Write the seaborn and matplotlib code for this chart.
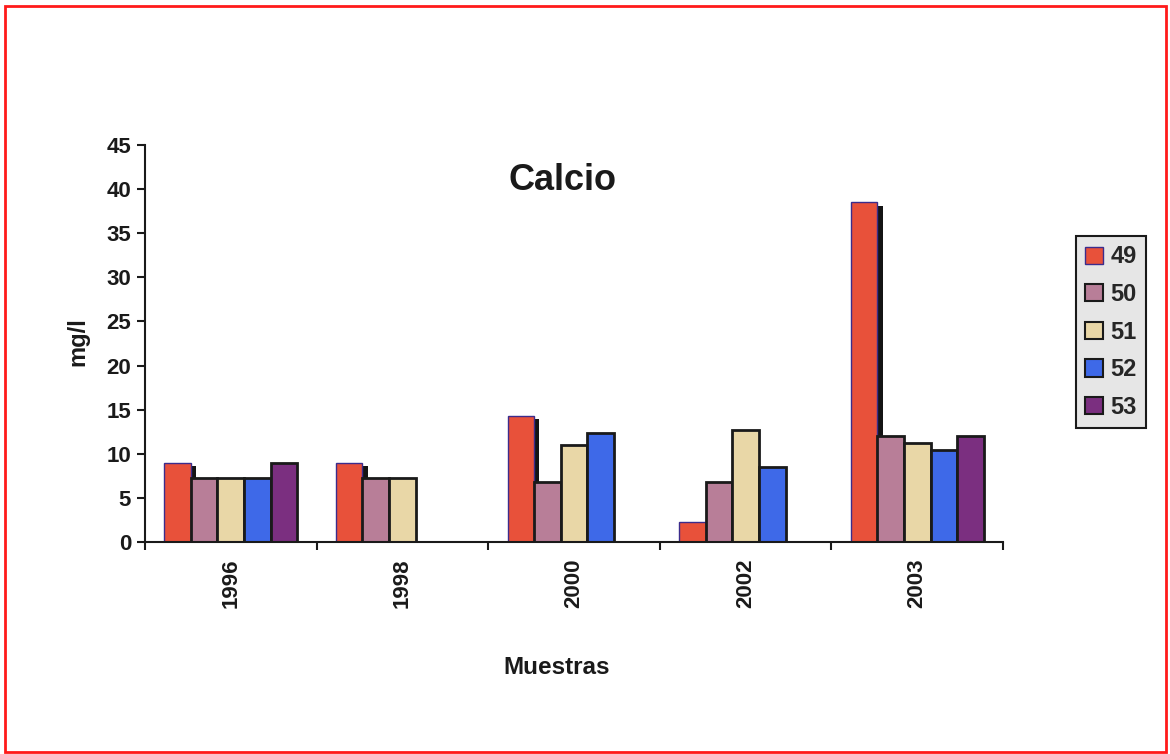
import numpy as np
import pandas as pd
import matplotlib
matplotlib.use("Agg")
import matplotlib.pyplot as plt
import matplotlib.patheffects as pe
from matplotlib.patches import Rectangle
import seaborn as sns

# Calcium concentration (mg/l) by sampling year and station
years = ["1996", "1998", "2000", "2002", "2003"]
stations = ["49", "50", "51", "52", "53"]
s49 = [9.0, 9.0, 14.3, 2.3, 38.5]
s50 = [7.3, 7.3, 6.8, 6.8, 12.0]
s51 = [7.3, 7.3, 11.0, 12.7, 11.2]
s52 = [7.3, np.nan, 12.3, 8.5, 10.4]
s53 = [9.0, np.nan, np.nan, np.nan, 12.0]

colors = ["#e8513a", "#b87e98", "#e9d7a7", "#3e69e8", "#7b2f80"]

sns.set_theme(style="white")
plt.rcParams["font.family"] = ["Liberation Sans", "DejaVu Sans"]
plt.rcParams["font.weight"] = "bold"

rows = []
for st, vals in zip(stations, [s49, s50, s51, s52, s53]):
    for y, v in zip(years, vals):
        if not np.isnan(v):
            rows.append({"Muestras": y, "Estacion": st, "mg/l": v})
df = pd.DataFrame(rows)

fig = plt.figure(figsize=(11.7, 7.54), dpi=100)
ax = fig.add_axes([0.1239, 0.2812, 0.7334, 0.5265])

sns.barplot(data=df, x="Muestras", y="mg/l", hue="Estacion",
            order=years, hue_order=stations,
            palette=dict(zip(stations, colors)),
            width=0.775, gap=0, saturation=1, errorbar=None,
            legend=False, ax=ax)

for i, cont in enumerate(ax.containers):
    for bar in cont:
        if i == 0:
            bar.set_edgecolor("#3b2c8c")
            bar.set_linewidth(1.0)
            bar.set_path_effects([
                pe.SimplePatchShadow(offset=(3.8, -2.4), shadow_rgbFace="#141414", alpha=1.0),
                pe.Normal(),
            ])
        else:
            bar.set_edgecolor("#1a1a1a")
            bar.set_linewidth(2.0)

ax.set_xlim(-0.5, 4.5)
ax.set_ylim(0, 45)
ax.set_yticks(np.arange(0, 46, 5))
ax.set_xticks(range(len(years)))
ax.set_xticklabels(years, rotation=90, fontsize=16, fontweight="bold")
ax.set_xticks(np.arange(-0.5, 4.6, 1.0), minor=True)
ax.tick_params(axis="x", which="major", length=0, pad=12)
ax.tick_params(axis="x", which="minor", length=6, width=1.5, color="#1a1a1a", direction="out", bottom=True)
ax.tick_params(axis="y", length=6, width=1.5, color="#1a1a1a", direction="out", left=True, labelsize=16, pad=4)
for lab in ax.get_yticklabels():
    lab.set_fontweight("bold")
    lab.set_color("#1a1a1a")
for lab in ax.get_xticklabels():
    lab.set_color("#1a1a1a")

for side in ["top", "right"]:
    ax.spines[side].set_visible(False)
for side in ["left", "bottom"]:
    ax.spines[side].set_color("#1a1a1a")
    ax.spines[side].set_linewidth(1.5)

ax.set_xlabel("")
ax.set_ylabel("")
fig.text(78 / 1170, 1 - 342 / 754, "mg/l", rotation=90, ha="center", va="center",
         fontsize=17, fontweight="bold", color="#1a1a1a")
fig.text(557 / 1170, 1 - 668 / 754, "Muestras", ha="center", va="center",
         fontsize=17.5, fontweight="bold", color="#1a1a1a")
ax.text(0.487, 0.91, "Calcio", transform=ax.transAxes, ha="center", va="center",
        fontsize=26, fontweight="bold", color="#1a1a1a")

handles = []
for i, c in enumerate(colors):
    handles.append(Rectangle((0, 0), 1, 1, facecolor=c,
                             edgecolor="#3b2c8c" if i == 0 else "#1a1a1a",
                             linewidth=1.0 if i == 0 else 1.5))
leg = fig.legend(handles, stations, loc="upper left",
                 bbox_to_anchor=(1076 / 1170, 1 - 236 / 754),
                 prop={"size": 17, "weight": "bold"},
                 handlelength=0.75, handleheight=0.75, handletextpad=0.3,
                 labelspacing=0.62, borderpad=0.4, borderaxespad=0,
                 fancybox=False, framealpha=1)
leg.get_frame().set_facecolor("#e6e6e6")
leg.get_frame().set_edgecolor("#1a1a1a")
leg.get_frame().set_linewidth(1.5)

fig.patches.append(Rectangle((4.5 / 1170, 1 - 752 / 754), 1161 / 1170, 746 / 754,
                             transform=fig.transFigure, fill=False,
                             edgecolor="#ff1a1a", linewidth=2))

fig.savefig("out.png", dpi=100)
